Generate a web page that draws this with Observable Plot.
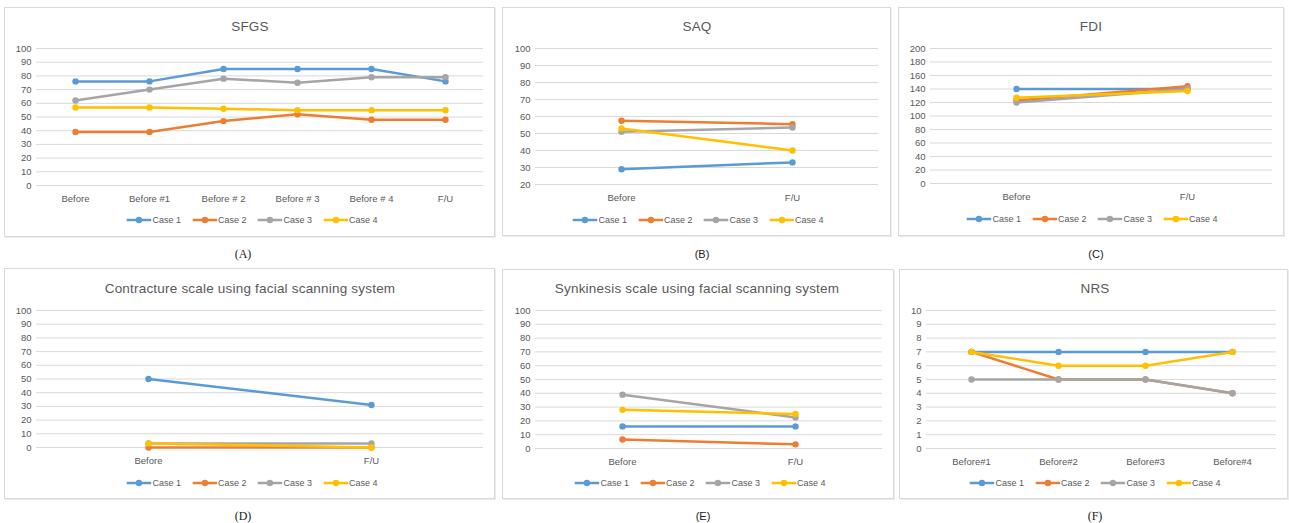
<!DOCTYPE html>
<html>
<head>
<meta charset="utf-8">
<script src="https://cdn.jsdelivr.net/npm/d3@7"></script>
<script src="https://cdn.jsdelivr.net/npm/@observablehq/plot@0.6"></script>
<style>
  html, body { margin: 0; padding: 0; background: #fff; }
  #root { position: relative; width: 1289px; height: 523px; overflow: hidden; font-family: "Liberation Sans", Arial, sans-serif; color: #595959; }
  .frame { position: absolute; border: 1px solid #D9D9D9; box-shadow: 1px 1px 0 #EBEBEB; box-sizing: border-box; }
  .title { position: absolute; font-size: 13.5px; color: #595959; white-space: nowrap; transform: translate(-50%, -50%); letter-spacing: 0.2px; }
  .legend { position: absolute; display: flex; align-items: center; font-size: 9px; color: #595959; white-space: nowrap; transform: translate(-50%, -50%); }
  .legend .item { display: flex; align-items: center; margin-right: 11px; }
  .legend .item:last-child { margin-right: 0; }
  .legend svg { margin-right: 1px; }
  .caption { position: absolute; font-size: 11px; color: #222; transform: translate(-50%, -50%); white-space: nowrap; }
  .plotwrap { position: absolute; }
</style>
</head>
<body>
<div id="root"></div>
<script>
// ---------- data ----------
const caseNames = ["Case 1", "Case 2", "Case 3", "Case 4"];
const caseColors = ["#5B9BD5", "#ED7D31", "#A5A5A5", "#FFC000"];

// (A) SFGS
const sfgsCats = ["Before", "Before #1", "Before # 2", "Before # 3", "Before # 4", "F/U"];
const sfgsCase1 = [76, 76, 85, 85, 85, 76];
const sfgsCase2 = [39, 39, 47, 52, 48, 48];
const sfgsCase3 = [62, 70, 78, 75, 79, 79];
const sfgsCase4 = [57, 57, 56, 55, 55, 55];
const sfgsTicks = [0, 10, 20, 30, 40, 50, 60, 70, 80, 90, 100];

// (B) SAQ
const saqCats = ["Before", "F/U"];
const saqCase1 = [29, 33];
const saqCase2 = [57.5, 55.5];
const saqCase3 = [51, 53.5];
const saqCase4 = [53, 40];
const saqTicks = [20, 30, 40, 50, 60, 70, 80, 90, 100];

// (C) FDI
const fdiCats = ["Before", "F/U"];
const fdiCase1 = [140, 140];
const fdiCase2 = [123, 144];
const fdiCase3 = [120, 140];
const fdiCase4 = [127, 137];
const fdiTicks = [0, 20, 40, 60, 80, 100, 120, 140, 160, 180, 200];

// (D) Contracture scale
const conCats = ["Before", "F/U"];
const conCase1 = [50, 31];
const conCase2 = [0, 0];
const conCase3 = [3, 3];
const conCase4 = [3, 0];
const conTicks = [0, 10, 20, 30, 40, 50, 60, 70, 80, 90, 100];

// (E) Synkinesis scale
const synCats = ["Before", "F/U"];
const synCase1 = [16, 16];
const synCase2 = [6.5, 3];
const synCase3 = [39, 22.5];
const synCase4 = [28, 25];
const synTicks = [0, 10, 20, 30, 40, 50, 60, 70, 80, 90, 100];

// (F) NRS
const nrsCats = ["Before#1", "Before#2", "Before#3", "Before#4"];
const nrsCase1 = [7, 7, 7, 7];
const nrsCase2 = [7, 5, 5, 4];
const nrsCase3 = [5, 5, 5, 4];
const nrsCase4 = [7, 6, 6, 7];
const nrsTicks = [0, 1, 2, 3, 4, 5, 6, 7, 8, 9, 10];

// ---------- layout (page px) ----------
const panels = [
  { title: "SFGS", caption: "(A)", capSerif: true, cats: sfgsCats, series: [sfgsCase1, sfgsCase2, sfgsCase3, sfgsCase4], ticks: sfgsTicks,
    frame: [4, 7, 495, 237], px: [36, 483], py: [48, 185], titleXY: [250, 26], legendXY: [252, 220], capXY: [243, 254] },
  { title: "SAQ", caption: "(B)", capSerif: false, cats: saqCats, series: [saqCase1, saqCase2, saqCase3, saqCase4], ticks: saqTicks,
    frame: [502, 7, 891, 236], px: [535, 878], py: [48, 184], titleXY: [697, 26], legendXY: [698, 220], capXY: [702, 254] },
  { title: "FDI", caption: "(C)", capSerif: false, cats: fdiCats, series: [fdiCase1, fdiCase2, fdiCase3, fdiCase4], ticks: fdiTicks,
    frame: [898, 7, 1284, 236], px: [930, 1272], py: [48, 183], titleXY: [1091, 26], legendXY: [1092, 219], capXY: [1096, 254] },
  { title: "Contracture scale using facial scanning system", caption: "(D)", capSerif: true, cats: conCats, series: [conCase1, conCase2, conCase3, conCase4], ticks: conTicks,
    frame: [4, 268, 495, 499], px: [36, 483], py: [310, 447], titleXY: [250, 288], legendXY: [252, 483], capXY: [243, 516] },
  { title: "Synkinesis scale using facial scanning system", caption: "(E)", capSerif: false, cats: synCats, series: [synCase1, synCase2, synCase3, synCase4], ticks: synTicks,
    frame: [502, 269, 894, 499], px: [535, 882], py: [310, 448], titleXY: [697, 288], legendXY: [700, 483], capXY: [703, 516] },
  { title: "NRS", caption: "(F)", capSerif: true, cats: nrsCats, series: [nrsCase1, nrsCase2, nrsCase3, nrsCase4], ticks: nrsTicks,
    frame: [899, 269, 1288, 499], px: [926, 1276], py: [310, 448], titleXY: [1095, 288], legendXY: [1095, 483], capXY: [1095, 516] }
];

const root = document.getElementById("root");

function el(cls, x, y, text) {
  const d = document.createElement("div");
  d.className = cls;
  d.style.left = x + "px";
  d.style.top = y + "px";
  if (text != null) d.textContent = text;
  root.appendChild(d);
  return d;
}

for (const p of panels) {
  // frame
  const f = el("frame", p.frame[0], p.frame[1]);
  f.style.width = (p.frame[2] - p.frame[0]) + "px";
  f.style.height = (p.frame[3] - p.frame[1]) + "px";

  // chart
  const rows = [];
  p.series.forEach((vals, si) => {
    vals.forEach((v, i) => rows.push({ cat: p.cats[i], v, s: caseNames[si] }));
  });
  const padTop = 10, padBottom = 30;
  const left = p.frame[0] + 1, right = p.frame[2] - 1;
  const width = right - left;
  const height = (p.py[1] - p.py[0]) + padTop + padBottom;
  const marks = [
    Plot.gridY(p.ticks, { stroke: "#D9D9D9", strokeOpacity: 1, strokeWidth: 1 }),
    Plot.axisY(p.ticks, { tickSize: 0, tickPadding: 5, fontSize: 9.5, fill: "#595959", label: null }),
    Plot.axisX({ tickSize: 0, tickPadding: 10, fontSize: 9.5, fill: "#595959", label: null })
  ];
  caseNames.forEach((name) => {
    const d = rows.filter(r => r.s === name);
    marks.push(Plot.line(d, { x: "cat", y: "v", stroke: "s", strokeWidth: 2.5, strokeLinecap: "round", strokeLinejoin: "round" }));
    marks.push(Plot.dot(d, { x: "cat", y: "v", fill: "s", r: 3.2, stroke: "none" }));
  });
  const chart = Plot.plot({
    width, height,
    marginLeft: p.px[0] - left,
    marginRight: right - p.px[1],
    marginTop: padTop,
    marginBottom: padBottom,
    style: { fontFamily: "Liberation Sans, Arial, sans-serif", color: "#595959", background: "transparent", overflow: "visible" },
    x: { type: "point", domain: p.cats, padding: 0.5, label: null },
    y: { domain: [p.ticks[0], p.ticks[p.ticks.length - 1]], label: null },
    color: { domain: caseNames, range: caseColors },
    marks
  });
  const w = el("plotwrap", left, p.py[0] - padTop);
  w.appendChild(chart);

  // title
  el("title", p.titleXY[0], p.titleXY[1], p.title);

  // legend
  const lg = el("legend", p.legendXY[0], p.legendXY[1]);
  caseNames.forEach((name, i) => {
    const it = document.createElement("div");
    it.className = "item";
    it.innerHTML = `<svg width="25" height="8"><line x1="0" y1="4" x2="25" y2="4" stroke="${caseColors[i]}" stroke-width="2.5"/><circle cx="12.5" cy="4" r="3.2" fill="${caseColors[i]}"/></svg><span>${name}</span>`;
    lg.appendChild(it);
  });

  // caption
  const c = el("caption", p.capXY[0], p.capXY[1], p.caption);
  c.style.fontFamily = p.capSerif ? '"Liberation Serif", "DejaVu Serif", serif' : '"Liberation Sans", Arial, sans-serif';
  c.style.fontSize = p.capSerif ? "12px" : "11px";
}
</script>
</body>
</html>
